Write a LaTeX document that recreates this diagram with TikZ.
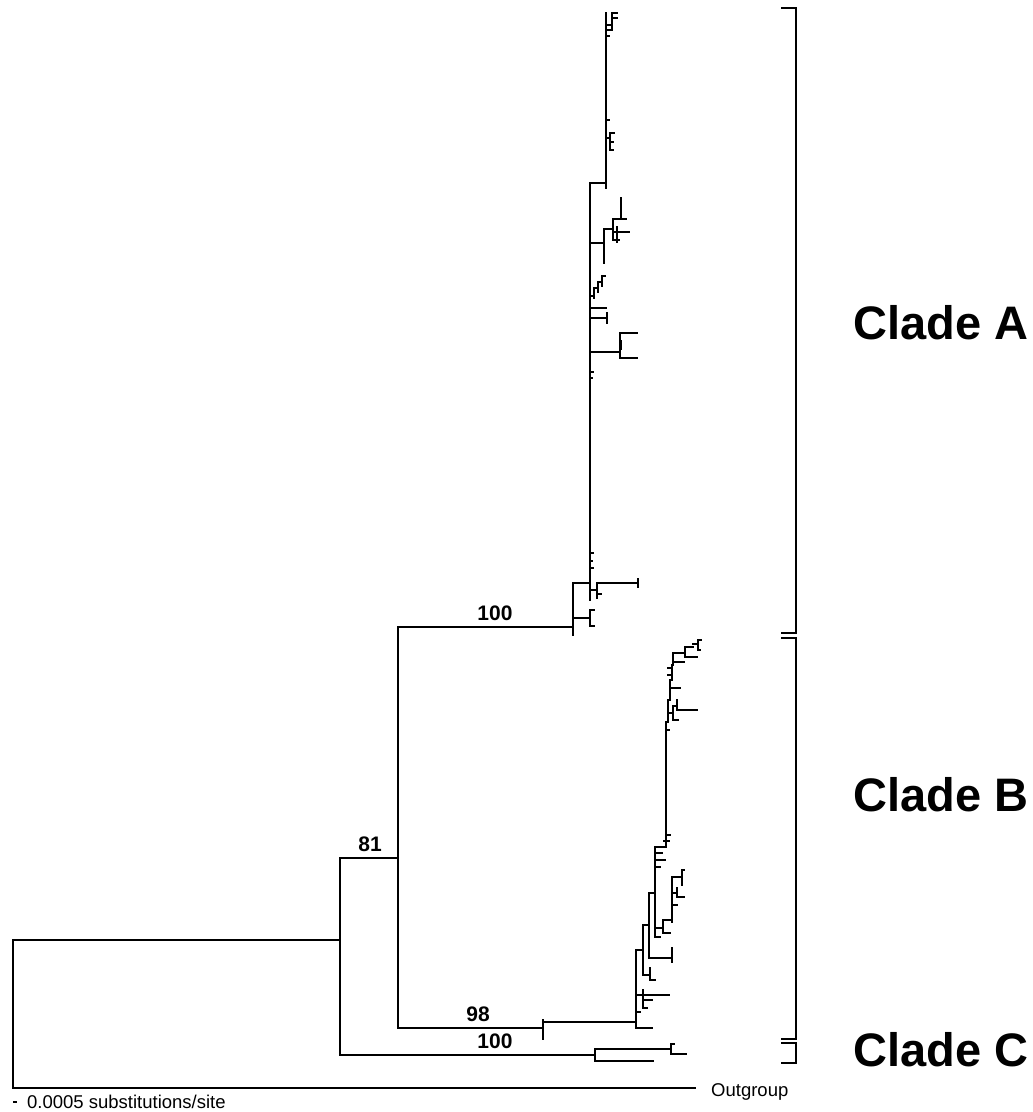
\documentclass[tikz,border=0pt]{standalone}
\usepackage{fontspec}
\setmainfont{Liberation Sans}
\begin{document}
\begin{tikzpicture}[x=1pt,y=-1pt,
  tr/.style={line width=1.9pt, line cap=rect},
  thk/.style={line width=2.7pt},
  brk/.style={line width=1.9pt, line cap=butt, line join=miter},
  cl/.style={font=\bfseries\fontsize{47}{50}\selectfont, anchor=west, inner sep=0pt},
  bs/.style={font=\bfseries\fontsize{21}{24}\selectfont, anchor=base, inner sep=0pt},
  sm/.style={font=\fontsize{18.5}{20}\selectfont, anchor=base west, inner sep=0pt}]
\useasboundingbox (0,0) rectangle (1033,1112);
\fill[white] (0,0) rectangle (1033,1112);
% main nodes
\coordinate (R) at (13,940);
\coordinate (Rb) at (13,1088);
\coordinate (OG) at (695,1088);
\coordinate (N1) at (340,940);
\coordinate (N1t) at (340,858);
\coordinate (N1b) at (340,1055);
\coordinate (N2) at (398,858);
\coordinate (N2t) at (398,627);
\coordinate (N2b) at (398,1028);
\coordinate (A0) at (573,627);
\coordinate (B0) at (543,1028);
\coordinate (C0) at (595,1055);
\draw[tr] (R) -- (Rb) -- (OG);
\draw[tr] (R) -- (N1);
\draw[tr] (N1t) -- (N1b);
\draw[tr] (N1t) -- (N2);
\draw[tr] (N2t) -- (N2b);
\draw[tr] (N2t) -- (A0);
\draw[tr] (N2b) -- (B0);
\draw[tr] (N1b) -- (C0);
% clade C
\draw[tr] (595,1049) -- (595,1061);
\draw[tr] (595,1049) -- (671,1049);
\draw[tr] (671,1044) -- (671,1054) -- (686,1054);
\draw[tr] (671,1044) -- (674,1044);
\draw[tr] (595,1061) -- (653,1061);
% clade B
\draw[tr] (543,1020) -- (543,1039);
\draw[tr] (543,1022) -- (636,1022);
\draw[tr] (636,950) -- (636,1028) -- (652,1028);
\draw[thk] (636,1000) -- (636,1020);
\draw[tr] (636,995) -- (643,995);
\draw[tr] (643,990) -- (643,1008);
\draw[tr] (643,995) -- (669,995);
\draw[tr] (643,1000) -- (652,1000);
\draw[tr] (643,1008) -- (647,1008);
\draw[tr] (636,1012) -- (640,1012);
\draw[tr] (636,950) -- (643,950);
\draw[tr] (643,925) -- (643,975) -- (650,975);
\draw[tr] (650,968) -- (650,980) -- (655,980);
\draw[tr] (643,925) -- (649,925);
\draw[tr] (649,893) -- (649,958) -- (672,958);
\draw[tr] (672,948) -- (672,962);
\draw[tr] (649,893) -- (655,893);
\draw[tr] (655,847) -- (655,937) -- (660,937);
\draw[tr] (655,928) -- (663,928);
\draw[tr] (663,920) -- (663,933) -- (670,933);
\draw[tr] (663,920) -- (672,920);
\draw[tr] (672,877) -- (672,922);
\draw[tr] (672,905) -- (677,905);
\draw[tr] (672,877) -- (682,877);
\draw[tr] (682,870) -- (682,885);
\draw[tr] (682,870) -- (684,870);
\draw[tr] (672,893) -- (677,893);
\draw[tr] (677,888) -- (677,897) -- (684,897);
\draw[tr] (655,853) -- (662,853);
\draw[tr] (655,860) -- (665,860);
\draw[tr] (655,867) -- (660,867);
\draw[tr] (655,847) -- (666,847);
\draw[tr] (666,835) -- (670,835);
\draw[tr] (664,841) -- (669,841);
\draw[tr] (666,847) -- (666,722) -- (668,722) -- (668,700) -- (670,700) -- (670,680) -- (672,680) -- (672,665) -- (673,665) -- (673,653);
\draw[tr] (666,730) -- (669,730);
\draw[tr] (670,688) -- (680,688);
\draw[thk] (670,685) -- (670,695);
\draw[tr] (668,713) -- (673,713);
\draw[tr] (673,706) -- (673,720) -- (678,720);
\draw[tr] (673,706) -- (677,706);
\draw[tr] (677,700) -- (677,710) -- (697,710);
\draw[tr] (668,668) -- (672,668);
\draw[tr] (668,675) -- (671,675);
\draw[tr] (673,653) -- (685,653);
\draw[tr] (673,662) -- (684,662);
\draw[tr] (685,647) -- (685,657) -- (697,657);
\draw[tr] (685,647) -- (693,647);
\draw[tr] (693,644) -- (698,644);
\draw[tr] (698,640) -- (698,650) -- (700,650);
\draw[tr] (698,640) -- (701,640);
% clade A
\draw[tr] (573,583) -- (573,635);
\draw[thk] (573,602) -- (573,618);
\draw[tr] (573,583) -- (590,583);
\draw[tr] (590,183) -- (590,600);
\draw[tr] (590,590) -- (597,590);
\draw[tr] (597,583) -- (597,598);
\draw[tr] (597,583) -- (638,583);
\draw[tr] (638,579) -- (638,587);
\draw[tr] (597,594) -- (601,594);
\draw[tr] (573,618) -- (590,618);
\draw[tr] (590,610) -- (590,626);
\draw[tr] (590,610) -- (594,610);
\draw[tr] (590,626) -- (594,626);
\draw[tr] (590,553) -- (593,553);
\draw[tr] (590,561) -- (592,561);
\draw[tr] (590,568) -- (593,568);
\draw[tr] (590,372) -- (593,372);
\draw[tr] (590,378) -- (592,378);
\draw[tr] (590,352) -- (620,352);
\draw[tr] (620,333) -- (620,358);
\draw[tr] (620,333) -- (637,333);
\draw[tr] (620,358) -- (637,358);
\draw[thk] (621,340) -- (621,350);
\draw[tr] (590,318) -- (607,318);
\draw[tr] (607,313) -- (607,323);
\draw[tr] (590,308) -- (606,308);
\draw[tr] (590,296) -- (594,296);
\draw[tr] (594,288) -- (594,298);
\draw[tr] (594,288) -- (598,288);
\draw[tr] (598,282) -- (598,292);
\draw[tr] (598,282) -- (602,282);
\draw[tr] (602,276) -- (602,286);
\draw[tr] (602,276) -- (605,276);
\draw[thk] (590,243) -- (590,295);
\draw[tr] (590,243) -- (604,243);
\draw[tr] (604,229) -- (604,263);
\draw[thk] (604,248) -- (604,263);
\draw[tr] (604,229) -- (613,229);
\draw[tr] (613,219) -- (613,240) -- (619,240);
\draw[tr] (613,219) -- (626,219);
\draw[tr] (613,232) -- (617,232);
\draw[tr] (617,227) -- (617,242);
\draw[tr] (617,232) -- (629,232);
\draw[thk] (621,197) -- (621,219);
\draw[tr] (590,183) -- (606,183);
\draw[tr] (606,13) -- (606,188);
\draw[tr] (606,25) -- (612,25);
\draw[tr] (612,13) -- (612,30);
\draw[tr] (612,13) -- (617,13);
\draw[tr] (614,18) -- (617,18);
\draw[tr] (606,30) -- (610,30);
\draw[tr] (606,36) -- (609,36);
\draw[thk] (606,25) -- (606,45);
\draw[tr] (606,120) -- (609,120);
\draw[tr] (606,138) -- (610,138);
\draw[tr] (610,133) -- (610,150);
\draw[tr] (610,133) -- (614,133);
\draw[tr] (610,142) -- (613,142);
\draw[tr] (610,150) -- (613,150);
\draw[thk] (606,118) -- (606,130);
% brackets
\draw[brk] (781,8) -- (796,8) -- (796,633) -- (781,633);
\draw[brk] (781,638) -- (796,638) -- (796,1039) -- (781,1039);
\draw[brk] (781,1043) -- (796,1043) -- (796,1063) -- (781,1063);
% labels
\node[cl] (ca) at (853,323) {Clade A};
\node[cl] (cb) at (853,795) {Clade B};
\node[cl] (cc) at (853,1050) {Clade C};
\node[bs] (l100a) at (495,620) {100};
\node[bs] (l81) at (370,851) {81};
\node[bs] (l98) at (478,1021) {98};
\node[bs] (l100c) at (495,1048) {100};
\node[sm] (ogl) at (711,1096) {Outgroup};
\node[sm] (scl) at (27,1108) {0.0005 substitutions/site};
\draw[line width=1.5pt] (13,1102) -- (17,1102);
\end{tikzpicture}
\end{document}
